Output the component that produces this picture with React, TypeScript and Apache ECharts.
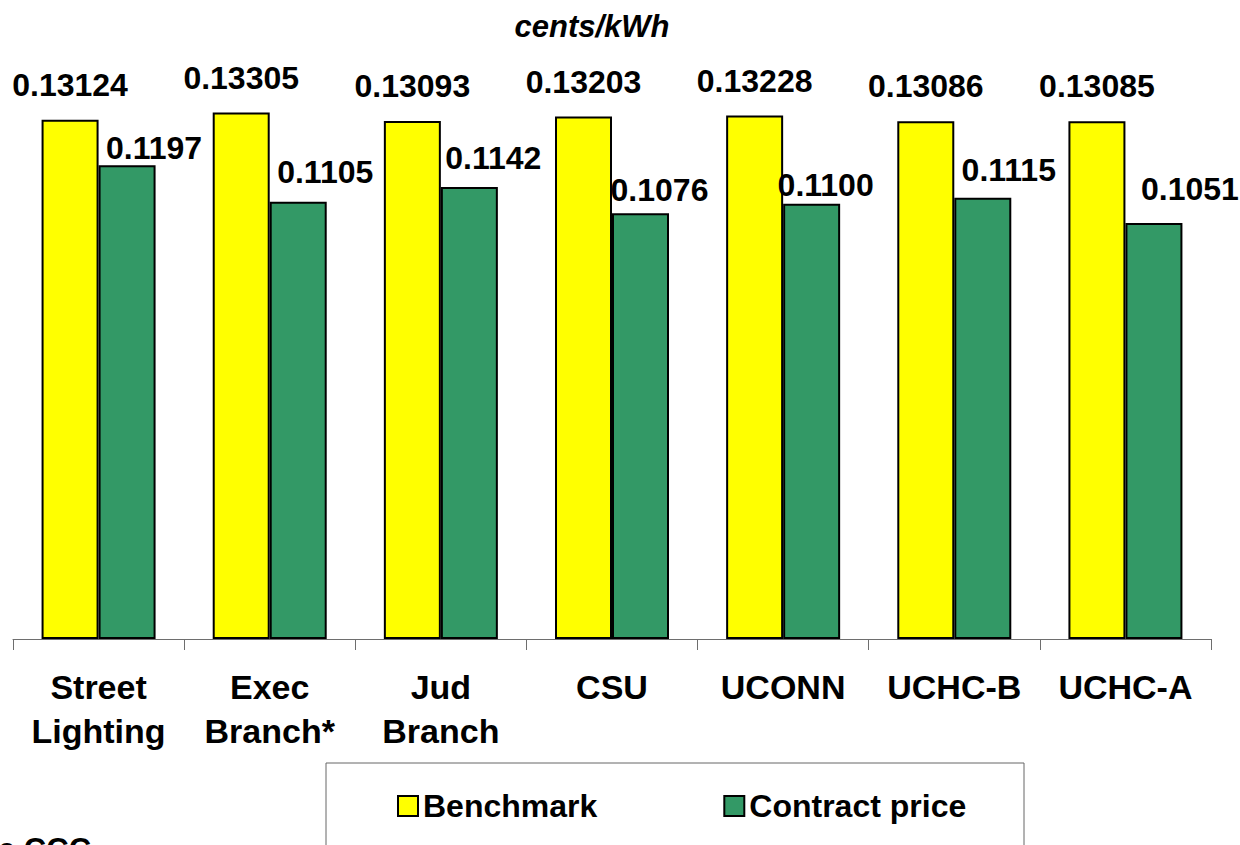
import React, { useEffect, useRef } from "react";
import * as echarts from "echarts";

const categories = ["Street\nLighting", "Exec\nBranch*", "Jud\nBranch", "CSU", "UCONN", "UCHC-B", "UCHC-A"];
const benchmark = [0.13124, 0.13305, 0.13093, 0.13203, 0.13228, 0.13086, 0.13085];
const contractPrice = [0.1197, 0.1105, 0.1142, 0.1076, 0.11, 0.1115, 0.1051];
const unitLabel = "cents/kWh";
const footText = "e CCC";

// label nudges (style only) for the contract-price value labels, as in the original slide
const contractLabelNudge = [
  [27, -1],
  [27, -14],
  [24, -13],
  [19, -7],
  [14, -3],
  [26, -12],
  [36, -18],
];

const FONT = 'Arial, "Liberation Sans", sans-serif';

export default function App() {
  const ref = useRef<HTMLDivElement>(null);
  useEffect(() => {
    if (!ref.current) return;
    const chart = echarts.init(ref.current, null, { renderer: "svg" });
    chart.setOption({
      animation: false,
      backgroundColor: "#ffffff",
      textStyle: { fontFamily: FONT },
      grid: { left: 13, right: 29, top: 85, bottom: 206, containLabel: false },
      xAxis: {
        type: "category",
        data: categories,
        boundaryGap: true,
        axisLine: { show: true, lineStyle: { color: "#6e6e6e", width: 1 } },
        axisTick: { show: true, length: 11, lineStyle: { color: "#6e6e6e", width: 1 } },
        axisLabel: {
          interval: 0,
          margin: 26,
          color: "#000",
          fontFamily: FONT,
          fontWeight: "bold",
          fontSize: 34,
          lineHeight: 44,
        },
      },
      yAxis: {
        type: "value",
        min: 0,
        max: 0.14,
        show: false,
        splitLine: { show: false },
      },
      legend: {
        left: 392,
        top: 785,
        itemWidth: 20,
        itemHeight: 20,
        itemGap: 126,
        icon: "rect",
        textStyle: { color: "#000", fontFamily: FONT, fontWeight: "bold", fontSize: 32 },
        data: ["Benchmark", "Contract price"],
      },
      graphic: [
        {
          type: "rect",
          shape: { x: 326, y: 763, width: 698, height: 120 },
          style: { fill: "none", stroke: "#666", lineWidth: 1 },
        },
        {
          type: "text",
          x: 592,
          y: 26,
          style: {
            text: unitLabel,
            fill: "#000",
            font: `italic bold 31px ${FONT}`,
            textAlign: "center",
            textVerticalAlign: "middle",
          },
        },
        {
          type: "text",
          x: -2,
          y: 834,
          style: {
            text: footText,
            fill: "#000",
            font: `bold 31px ${FONT}`,
            textAlign: "left",
            textVerticalAlign: "top",
          },
        },
      ],
      series: [
        {
          name: "Benchmark",
          type: "bar",
          data: benchmark,
          barWidth: 57,
          barGap: "0%",
          itemStyle: { color: "#ffff00", borderColor: "#000", borderWidth: 2 },
          label: {
            show: true,
            position: "top",
            distance: 19,
            color: "#000",
            fontFamily: FONT,
            fontWeight: "bold",
            fontSize: 32,
            formatter: (p: any) => Number(p.value).toFixed(5),
          },
        },
        {
          name: "Contract price",
          type: "bar",
          data: contractPrice.map((v, i) => ({
            value: v,
            label: { offset: contractLabelNudge[i] },
          })),
          barWidth: 57,
          barGap: "0%",
          itemStyle: { color: "#339966", borderColor: "#000", borderWidth: 2 },
          label: {
            show: true,
            position: "top",
            distance: 0,
            color: "#000",
            fontFamily: FONT,
            fontWeight: "bold",
            fontSize: 32,
            formatter: (p: any) => Number(p.value).toFixed(4),
          },
        },
      ],
    });
    return () => chart.dispose();
  }, []);
  return (
    <div
      ref={ref}
      style={{ position: "fixed", left: 0, top: 0, width: 1240, height: 845, background: "#fff" }}
    />
  );
}
